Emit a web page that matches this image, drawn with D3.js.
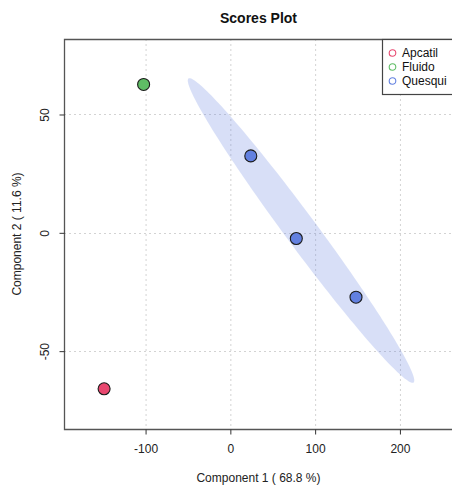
<!DOCTYPE html>
<html>
<head>
<meta charset="utf-8">
<script src="https://cdn.jsdelivr.net/npm/d3@7"></script>
<style>
  html, body { margin: 0; padding: 0; background: #fff; }
  svg { display: block; font-family: "Liberation Sans", Arial, sans-serif; }
</style>
</head>
<body>
<svg id="chart" width="452" height="485"></svg>
<script>
// Sample scores on the first two components
const sampleGroups = ["Apcatil", "Fluido", "Quesqui", "Quesqui", "Quesqui"];
const comp1Scores = [-148.9, -102.3, 24.1, 77.8, 148.2];
const comp2Scores = [-65.9, 62.7, 32.5, -2.4, -27.2];

const groupNames = ["Apcatil", "Fluido", "Quesqui"];
const groupColors = ["#E8476F", "#5FBD65", "#6280E0"];

const xTickValues = [-100, 0, 100, 200];
const yTickValues = [-50, 0, 50];

const titleText = "Scores Plot";
const xLabel = "Component 1 ( 68.8 %)";
const yLabel = "Component 2 ( 11.6 %)";

// Confidence level for the group ellipses
const confLevel = 0.9;

const svg = d3.select("#chart");
const plot = { left: 64, right: 453, top: 39, bottom: 429 };

const x = d3.scaleLinear().domain([-196.2, 262.6]).range([plot.left, plot.right]);
const y = d3.scaleLinear().domain([81.9, -82.9]).range([plot.top, plot.bottom]);
const color = d3.scaleOrdinal().domain(groupNames).range(groupColors);

const points = sampleGroups.map((g, i) => ({ group: g, x: comp1Scores[i], y: comp2Scores[i] }));

// Plain hyphen for negative tick labels
const tickFmt = d => String(d);

// Grid
const grid = svg.append("g").attr("stroke", "#d3d3d3").attr("stroke-width", 1).attr("stroke-dasharray", "2,3");
grid.selectAll("line.vx").data(xTickValues).join("line")
  .attr("x1", d => x(d) + 0.5).attr("x2", d => x(d) + 0.5)
  .attr("y1", plot.top).attr("y2", plot.bottom);
grid.selectAll("line.hy").data(yTickValues).join("line")
  .attr("y1", d => Math.round(y(d)) + 0.5).attr("y2", d => Math.round(y(d)) + 0.5)
  .attr("x1", plot.left).attr("x2", plot.right);

// Confidence ellipses from each group's covariance
const chi2 = -2 * Math.log(1 - confLevel);
const scale = Math.sqrt(chi2);
const ellipseLayer = svg.append("g");
groupNames.forEach(name => {
  const pts = points.filter(p => p.group === name);
  if (pts.length < 3) return;
  const mx = d3.mean(pts, p => p.x), my = d3.mean(pts, p => p.y);
  const n = pts.length;
  const sxx = d3.sum(pts, p => (p.x - mx) ** 2) / (n - 1);
  const syy = d3.sum(pts, p => (p.y - my) ** 2) / (n - 1);
  const sxy = d3.sum(pts, p => (p.x - mx) * (p.y - my)) / (n - 1);
  const tr = sxx + syy, det = sxx * syy - sxy * sxy;
  const disc = Math.sqrt(tr * tr / 4 - det);
  const l1 = tr / 2 + disc, l2 = tr / 2 - disc;
  const theta = Math.atan2(l1 - sxx, sxy);
  const a = Math.sqrt(l1) * scale, b = Math.sqrt(Math.max(l2, 0)) * scale;
  const ring = d3.range(0, 361, 2).map(deg => {
    const t = deg * Math.PI / 180;
    const ex = a * Math.cos(t), ey = b * Math.sin(t);
    return [x(mx + ex * Math.cos(theta) - ey * Math.sin(theta)),
            y(my + ex * Math.sin(theta) + ey * Math.cos(theta))];
  });
  ellipseLayer.append("path")
    .attr("d", d3.line()(ring) + "Z")
    .attr("fill", color(name)).attr("fill-opacity", 0.25).attr("stroke", "none");
});

// Points
svg.append("g").selectAll("circle").data(points).join("circle")
  .attr("cx", d => x(d.x)).attr("cy", d => y(d.y)).attr("r", 6)
  .attr("fill", d => color(d.group)).attr("stroke", "#1a1a1a").attr("stroke-width", 1.1);

// Frame
svg.append("path")
  .attr("d", `M${plot.right},${plot.top + 0.5}H${plot.left + 0.5}V${plot.bottom + 0.5}H${plot.right}`)
  .attr("fill", "none").attr("stroke", "#555").attr("stroke-width", 1.3);

// Axes
const xAxis = svg.append("g").attr("transform", `translate(0,${plot.bottom + 0.5})`)
  .call(d3.axisBottom(x).tickValues(xTickValues).tickSize(5).tickPadding(10).tickFormat(tickFmt));
xAxis.select(".domain").remove();
xAxis.selectAll("line").attr("stroke", "#333");
xAxis.selectAll("text").attr("font-size", 12).attr("fill", "#222");

const yAxis = svg.append("g").attr("transform", `translate(${plot.left + 0.5},0)`)
  .call(d3.axisLeft(y).tickValues(yTickValues).tickSize(5).tickPadding(0).tickFormat(tickFmt));
yAxis.select(".domain").remove();
yAxis.selectAll("line").attr("stroke", "#333");
yAxis.selectAll("text")
  .attr("font-size", 12).attr("fill", "#222")
  .attr("text-anchor", "middle").attr("dy", null).attr("x", null)
  .attr("transform", "translate(-16,0) rotate(-90)")
  .attr("dominant-baseline", "auto");

// Title and axis labels
svg.append("text").attr("x", (plot.left + plot.right) / 2).attr("y", 23)
  .attr("text-anchor", "middle").attr("font-size", 14).attr("font-weight", "bold").attr("fill", "#111")
  .text(titleText);
svg.append("text").attr("x", (plot.left + plot.right) / 2).attr("y", 482)
  .attr("text-anchor", "middle").attr("font-size", 12).attr("fill", "#222").text(xLabel);
svg.append("text").attr("transform", `translate(21,${(plot.top + plot.bottom) / 2}) rotate(-90)`)
  .attr("text-anchor", "middle").attr("font-size", 12).attr("fill", "#222").text(yLabel);

// Legend
const legend = svg.append("g");
legend.append("rect").attr("x", 382.5).attr("y", plot.top + 0.5).attr("width", 80).attr("height", 55)
  .attr("fill", "#fff").attr("stroke", "#444").attr("stroke-width", 1.2);
const items = legend.selectAll("g.item").data(groupNames).join("g")
  .attr("transform", (d, i) => `translate(0,${53 + i * 14})`);
items.append("circle").attr("cx", 392.5).attr("cy", 0).attr("r", 3.3)
  .attr("fill", "none").attr("stroke", d => color(d)).attr("stroke-width", 1.1);
items.append("text").attr("x", 402).attr("y", 4.3).attr("font-size", 12).attr("fill", "#111").text(d => d);
</script>
</body>
</html>
